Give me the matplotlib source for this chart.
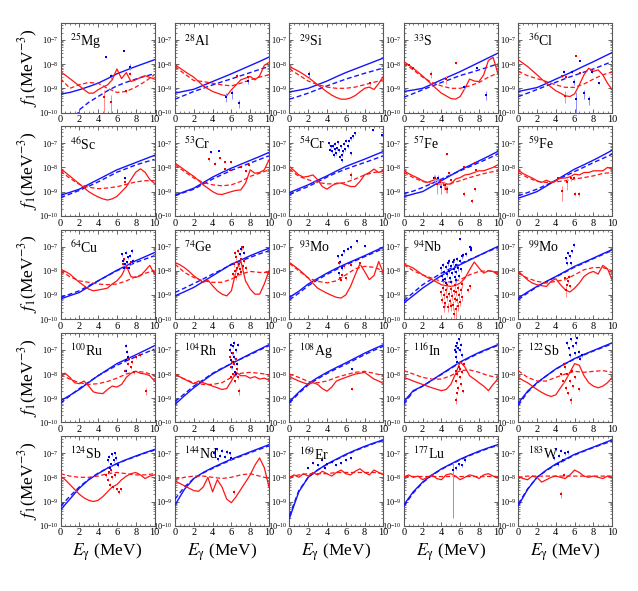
import numpy as np
import matplotlib
matplotlib.use("Agg")
import matplotlib.pyplot as plt
from matplotlib.ticker import MultipleLocator, LogLocator, NullFormatter

plt.rcParams['font.family'] = ['Liberation Serif', 'DejaVu Serif']
plt.rcParams['mathtext.fontset'] = 'stix'

# ---- data: curves are log10 f1 at E = 0,1,...,10 (red solid at 0,0.5,...,10) ----
NUCLIDES = [("25", "Mg"), ("28", "Al"), ("29", "Si"), ("33", "S"), ("36", "Cl"),
            ("46", "Sc"), ("53", "Cr"), ("54", "Cr"), ("57", "Fe"), ("59", "Fe"),
            ("64", "Cu"), ("74", "Ge"), ("93", "Mo"), ("94", "Nb"), ("99", "Mo"),
            ("100", "Ru"), ("104", "Rh"), ("108", "Ag"), ("116", "In"), ("122", "Sb"),
            ("124", "Sb"), ("144", "Nd"), ("169", "Er"), ("177", "Lu"), ("183", "W")]

E_COARSE = [0, 1, 2, 3, 4, 5, 6, 7, 8, 9, 10]
E_FINE = [0, 0.5, 1, 1.5, 2, 2.5, 3, 3.5, 4, 4.5, 5, 5.5, 6, 6.5, 7, 7.5, 8, 8.5, 9, 9.5, 10]

BLUE_SOLID = [
    [-9.24, -9.17, -9.06, -8.93, -8.79, -8.6, -8.4, -8.25, -8.1, -7.96, -7.82],
    [-9.2, -9.12, -9.04, -8.88, -8.72, -8.56, -8.4, -8.23, -8.06, -7.89, -7.71],
    [-9.15, -9.08, -9.0, -8.85, -8.7, -8.52, -8.35, -8.2, -8.05, -7.9, -7.75],
    [-9.13, -9.07, -9.0, -8.83, -8.65, -8.48, -8.31, -8.12, -7.93, -7.74, -7.55],
    [-9.13, -9.05, -8.97, -8.8, -8.62, -8.45, -8.27, -8.08, -7.9, -7.71, -7.52],
    [-9.15, -9.03, -8.9, -8.7, -8.5, -8.3, -8.1, -7.95, -7.8, -7.65, -7.5],
    [-9.15, -9.0, -8.86, -8.63, -8.4, -8.21, -8.03, -7.87, -7.71, -7.55, -7.38],
    [-9.04, -8.88, -8.72, -8.53, -8.35, -8.15, -7.96, -7.81, -7.66, -7.5, -7.34],
    [-9.21, -9.1, -9.0, -8.78, -8.55, -8.33, -8.11, -7.92, -7.73, -7.54, -7.34],
    [-9.27, -9.14, -9.0, -8.77, -8.53, -8.3, -8.07, -7.89, -7.7, -7.5, -7.29],
    [-9.17, -9.03, -8.9, -8.66, -8.42, -8.2, -7.98, -7.79, -7.59, -7.42, -7.25],
    [-9.04, -8.87, -8.69, -8.45, -8.21, -7.97, -7.73, -7.56, -7.38, -7.22, -7.07],
    [-9.1, -8.85, -8.55, -8.32, -8.1, -7.9, -7.72, -7.55, -7.38, -7.2, -7.02],
    [-9.34, -9.03, -8.72, -8.46, -8.2, -7.97, -7.75, -7.56, -7.37, -7.18, -7.0],
    [-9.13, -8.88, -8.65, -8.44, -8.24, -8.03, -7.82, -7.65, -7.48, -7.3, -7.13],
    [-9.11, -8.88, -8.64, -8.35, -8.07, -7.82, -7.57, -7.39, -7.21, -7.02, -6.83],
    [-9.26, -8.9, -8.57, -8.28, -8.0, -7.78, -7.57, -7.37, -7.17, -6.98, -6.79],
    [-9.14, -8.75, -8.4, -8.15, -7.93, -7.73, -7.54, -7.34, -7.14, -6.96, -6.79],
    [-9.14, -8.69, -8.5, -8.25, -8.0, -7.75, -7.5, -7.3, -7.11, -6.95, -6.79],
    [-9.21, -8.71, -8.36, -8.07, -7.79, -7.57, -7.36, -7.19, -7.03, -6.87, -6.71],
    [-9.35, -8.9, -8.45, -8.1, -7.85, -7.62, -7.43, -7.27, -7.12, -6.98, -6.85],
    [-9.14, -8.5, -8.05, -7.8, -7.6, -7.42, -7.25, -7.1, -6.95, -6.8, -6.65],
    [-9.7, -8.6, -8.0, -7.7, -7.45, -7.25, -7.05, -6.88, -6.72, -6.58, -6.45],
    [-9.14, -8.6, -8.2, -7.9, -7.65, -7.45, -7.25, -7.08, -6.92, -6.78, -6.65],
    [-9.18, -8.5, -8.0, -7.7, -7.45, -7.25, -7.05, -6.9, -6.75, -6.6, -6.45],
]

BLUE_DASH = [
    [-11.6, -10.8, -9.89, -9.58, -9.34, -9.1, -8.9, -8.75, -8.62, -8.5, -8.4],
    [-9.45, -9.29, -9.13, -9.0, -8.86, -8.73, -8.61, -8.48, -8.35, -8.22, -8.1],
    [-9.45, -9.33, -9.2, -9.05, -8.9, -8.76, -8.62, -8.5, -8.38, -8.27, -8.16],
    [-9.37, -9.22, -9.06, -8.91, -8.76, -8.62, -8.47, -8.36, -8.24, -8.12, -7.99],
    [-9.34, -9.2, -9.05, -8.9, -8.75, -8.6, -8.46, -8.33, -8.2, -8.05, -7.89],
    [-9.25, -9.1, -8.95, -8.78, -8.6, -8.4, -8.2, -8.05, -7.9, -7.78, -7.67],
    [-9.17, -9.03, -8.9, -8.69, -8.48, -8.3, -8.12, -7.97, -7.82, -7.67, -7.52],
    [-9.13, -8.95, -8.79, -8.6, -8.4, -8.22, -8.07, -7.93, -7.8, -7.66, -7.52],
    [-9.08, -8.98, -8.83, -8.66, -8.48, -8.31, -8.14, -7.97, -7.8, -7.63, -7.45],
    [-9.17, -9.04, -8.9, -8.72, -8.55, -8.36, -8.17, -7.99, -7.8, -7.63, -7.45],
    [-9.1, -8.97, -8.83, -8.62, -8.42, -8.21, -8.0, -7.83, -7.66, -7.52, -7.38],
    [-8.9, -8.72, -8.53, -8.34, -8.14, -7.95, -7.75, -7.6, -7.45, -7.3, -7.18],
    [-9.2, -8.93, -8.62, -8.38, -8.15, -7.95, -7.76, -7.59, -7.42, -7.25, -7.08],
    [-9.24, -8.91, -8.58, -8.34, -8.1, -7.9, -7.71, -7.54, -7.37, -7.2, -7.04],
    [-9.2, -8.92, -8.67, -8.46, -8.26, -8.06, -7.85, -7.68, -7.5, -7.33, -7.16],
    [-9.21, -8.9, -8.6, -8.33, -8.07, -7.85, -7.64, -7.46, -7.29, -7.13, -6.97],
    [-9.14, -8.82, -8.5, -8.24, -7.97, -7.76, -7.57, -7.38, -7.2, -7.01, -6.83],
    [-9.2, -8.8, -8.45, -8.2, -7.98, -7.78, -7.6, -7.4, -7.2, -7.02, -6.85],
    [-9.25, -8.72, -8.5, -8.26, -8.02, -7.77, -7.53, -7.33, -7.14, -6.97, -6.82],
    [-9.3, -8.75, -8.38, -8.08, -7.8, -7.58, -7.38, -7.21, -7.05, -6.9, -6.75],
    [-9.2, -8.78, -8.4, -8.08, -7.83, -7.62, -7.44, -7.28, -7.14, -7.0, -6.88],
    [-8.9, -8.4, -8.05, -7.82, -7.63, -7.45, -7.28, -7.13, -6.98, -6.84, -6.7],
    [-9.6, -8.55, -8.0, -7.7, -7.47, -7.27, -7.08, -6.9, -6.75, -6.6, -6.48],
    [-9.2, -8.65, -8.22, -7.92, -7.67, -7.47, -7.28, -7.1, -6.95, -6.8, -6.68],
    [-9.1, -8.48, -8.0, -7.72, -7.48, -7.28, -7.08, -6.92, -6.77, -6.63, -6.5],
]

RED_SOLID = [
    [-8.31, -8.45, -8.6, -8.75, -8.9, -9.05, -9.2, -9.2, -9.06, -8.95, -8.86, -8.65, -8.2, -8.6, -8.35, -8.72, -8.65, -8.55, -8.48, -8.55, -8.62],
    [-8.03, -8.16, -8.29, -8.42, -8.54, -8.72, -8.9, -9.02, -9.13, -9.2, -9.27, -9.31, -9.06, -8.86, -8.65, -8.58, -8.51, -8.65, -8.49, -8.05, -7.93],
    [-8.1, -8.2, -8.3, -8.42, -8.55, -8.7, -8.85, -9.0, -9.15, -9.28, -9.38, -9.45, -9.45, -9.4, -9.3, -9.15, -9.0, -8.95, -9.05, -8.8, -8.5],
    [-7.89, -8.03, -8.17, -8.33, -8.49, -8.67, -8.86, -9.03, -9.2, -9.31, -9.42, -9.45, -9.34, -9.0, -8.62, -8.7, -8.72, -8.44, -7.85, -7.72, -8.37],
    [-7.82, -7.96, -8.1, -8.27, -8.44, -8.62, -8.79, -8.95, -9.1, -9.2, -9.31, -9.34, -9.23, -8.86, -8.44, -8.17, -8.3, -8.24, -8.44, -8.79, -9.06],
    [-8.05, -8.2, -8.36, -8.52, -8.68, -8.84, -9.0, -9.12, -9.22, -9.3, -9.35, -9.3, -9.2, -9.0, -8.8, -8.5, -8.2, -8.06, -8.2, -8.5, -8.66],
    [-7.82, -7.96, -8.1, -8.24, -8.37, -8.54, -8.72, -8.86, -9.0, -9.1, -9.12, -9.06, -9.0, -8.95, -8.93, -8.65, -8.1, -8.24, -8.21, -8.1, -7.69],
    [-7.96, -8.13, -8.31, -8.4, -8.37, -8.31, -8.51, -8.79, -8.9, -8.76, -8.65, -8.65, -8.72, -8.79, -8.79, -8.58, -8.31, -8.21, -8.07, -8.21, -8.13],
    [-8.14, -8.25, -8.35, -8.44, -8.55, -8.62, -8.55, -8.48, -8.6, -8.69, -8.69, -8.48, -8.42, -8.31, -8.28, -8.21, -8.14, -8.14, -8.07, -8.0, -7.89],
    [-8.11, -8.25, -8.35, -8.44, -8.55, -8.62, -8.53, -8.62, -8.55, -8.44, -8.44, -8.39, -8.28, -8.31, -8.21, -8.21, -8.14, -8.14, -8.14, -8.0, -8.07],
    [-7.93, -8.03, -8.14, -8.31, -8.48, -8.62, -8.76, -8.83, -8.8, -8.76, -8.72, -8.55, -8.42, -8.2, -7.8, -8.25, -8.28, -8.21, -8.0, -7.78, -8.14],
    [-7.66, -7.75, -7.87, -8.03, -8.21, -8.35, -8.48, -8.39, -8.62, -8.83, -8.97, -9.04, -8.83, -8.0, -7.59, -8.42, -8.76, -8.97, -8.97, -8.55, -8.0],
    [-7.66, -7.8, -7.95, -8.12, -8.3, -8.52, -8.72, -8.83, -8.93, -9.02, -9.1, -9.13, -9.0, -8.65, -8.17, -7.72, -8.03, -8.37, -8.2, -7.62, -8.1],
    [-7.73, -7.8, -7.89, -8.03, -8.17, -8.28, -8.37, -8.47, -8.58, -8.62, -8.65, -8.61, -8.51, -8.31, -7.96, -7.64, -7.89, -8.1, -8.0, -8.03, -8.17],
    [-8.03, -8.2, -8.38, -8.51, -8.58, -8.62, -8.65, -8.44, -8.33, -8.58, -8.79, -8.88, -8.72, -8.51, -8.24, -8.1, -8.03, -8.14, -7.78, -7.92, -8.38],
    [-8.0, -7.97, -8.14, -8.36, -8.4, -8.29, -8.5, -8.74, -8.79, -8.81, -8.64, -8.5, -8.54, -8.43, -8.14, -7.97, -7.89, -7.97, -8.0, -8.07, -8.29],
    [-8.0, -8.11, -8.21, -8.31, -8.4, -8.29, -8.36, -8.43, -8.5, -8.57, -8.64, -8.6, -8.29, -7.93, -8.07, -8.07, -8.17, -8.11, -8.21, -8.17, -8.26],
    [-8.11, -8.2, -8.29, -8.36, -8.43, -8.36, -8.43, -8.6, -8.71, -8.54, -8.29, -8.21, -8.14, -8.07, -8.0, -7.97, -7.93, -8.07, -8.21, -8.29, -8.4],
    [-8.14, -8.21, -8.29, -8.36, -8.43, -8.5, -8.57, -8.63, -8.69, -8.64, -8.43, -8.0, -7.5, -7.71, -8.07, -8.21, -8.36, -8.5, -8.69, -8.43, -8.21],
    [-8.14, -8.26, -8.36, -8.5, -8.64, -8.76, -8.86, -8.93, -8.86, -8.57, -8.29, -7.93, -7.57, -7.64, -8.07, -8.36, -8.5, -8.57, -8.5, -8.36, -8.14],
    [-7.95, -8.1, -8.3, -8.5, -8.7, -8.85, -8.95, -9.0, -8.95, -8.8, -8.6, -8.4, -8.3, -8.1, -7.95, -7.85, -7.8, -7.9, -8.05, -7.95, -7.9],
    [-8.16, -8.25, -8.35, -8.45, -8.55, -8.58, -8.4, -8.0, -8.6, -8.1, -8.4, -8.9, -9.05, -8.8, -8.5, -8.2, -7.9, -7.5, -7.2, -7.6, -8.4],
    [-8.0, -7.9, -8.0, -7.85, -7.95, -7.8, -7.9, -7.75, -7.85, -7.95, -7.8, -7.7, -7.85, -7.9, -7.75, -7.65, -7.8, -7.9, -7.7, -7.8, -7.9],
    [-8.0, -7.9, -8.0, -7.95, -8.1, -8.0, -7.9, -8.05, -8.1, -7.9, -7.85, -7.95, -8.1, -8.0, -7.9, -7.95, -8.05, -7.9, -7.85, -7.95, -8.0],
    [-7.95, -8.05, -8.1, -7.95, -8.0, -8.2, -8.1, -8.0, -7.95, -8.0, -8.05, -7.9, -7.7, -7.8, -7.95, -8.0, -7.95, -8.0, -8.05, -7.95, -8.0],
]

RED_DASH = [
    [-8.6, -9.0, -8.85, -8.76, -8.79, -9.0, -9.17, -9.13, -8.95, -8.72, -8.44],
    [-8.1, -8.4, -8.68, -8.72, -8.79, -8.86, -8.9, -8.79, -8.65, -8.54, -8.44],
    [-8.2, -8.45, -8.7, -8.85, -8.95, -9.0, -9.0, -8.95, -8.85, -8.75, -8.65],
    [-7.96, -8.24, -8.54, -8.76, -8.9, -9.0, -9.0, -8.9, -8.76, -8.54, -8.37],
    [-8.3, -8.48, -8.6, -8.72, -8.86, -8.96, -8.96, -8.82, -8.62, -8.44, -8.33],
    [-8.15, -8.45, -8.7, -8.82, -8.88, -8.85, -8.8, -8.7, -8.6, -8.55, -8.55],
    [-7.89, -8.17, -8.44, -8.62, -8.72, -8.76, -8.72, -8.58, -8.37, -8.24, -8.1],
    [-8.07, -8.37, -8.51, -8.62, -8.68, -8.68, -8.62, -8.48, -8.31, -8.21, -8.17],
    [-8.21, -8.42, -8.58, -8.66, -8.69, -8.66, -8.55, -8.42, -8.31, -8.21, -8.14],
    [-8.21, -8.42, -8.58, -8.62, -8.6, -8.55, -8.48, -8.42, -8.35, -8.25, -8.21],
    [-8.0, -8.25, -8.42, -8.48, -8.55, -8.58, -8.55, -8.42, -8.25, -8.11, -7.98],
    [-7.73, -8.07, -8.28, -8.42, -8.48, -8.48, -8.35, -8.14, -8.03, -8.07, -8.07],
    [-7.7, -8.0, -8.3, -8.44, -8.5, -8.42, -8.17, -7.92, -7.82, -7.86, -8.0],
    [-7.75, -8.0, -8.17, -8.31, -8.44, -8.47, -8.37, -8.17, -8.03, -8.0, -8.1],
    [-8.1, -8.31, -8.44, -8.51, -8.44, -8.37, -8.17, -7.96, -7.87, -7.87, -8.0],
    [-8.03, -8.21, -8.36, -8.43, -8.4, -8.31, -8.17, -8.0, -7.89, -7.93, -8.07],
    [-8.03, -8.21, -8.36, -8.43, -8.43, -8.36, -8.14, -7.97, -7.93, -7.97, -8.03],
    [-8.0, -8.14, -8.31, -8.36, -8.29, -8.14, -8.03, -7.93, -7.89, -7.97, -8.07],
    [-7.86, -8.0, -8.14, -8.21, -8.21, -8.07, -7.86, -7.83, -7.93, -8.07, -8.14],
    [-7.86, -8.14, -8.29, -8.29, -8.14, -8.0, -7.89, -7.93, -7.89, -7.86, -7.93],
    [-7.85, -7.95, -8.0, -8.0, -7.95, -7.85, -7.8, -7.85, -7.9, -7.9, -7.85],
    [-8.1, -8.0, -7.95, -7.95, -8.0, -8.05, -8.0, -7.9, -7.85, -7.95, -8.05],
    [-8.0, -7.9, -7.85, -7.85, -7.85, -7.8, -7.8, -7.8, -7.8, -7.8, -7.85],
    [-7.95, -7.95, -7.95, -7.95, -7.95, -7.95, -7.95, -7.95, -7.95, -7.95, -7.95],
    [-8.0, -7.95, -7.95, -7.95, -7.95, -7.95, -7.95, -7.95, -7.95, -7.95, -7.95],
]

# experimental points: (E_gamma, log10 f1, relative error)
BLUE_PTS = [
    [(4.8, -7.71, 0.05), (6.8, -7.44, 0.05), (7.4, -8.1, 0.3), (5.4, -8.51, 0.3)],
    [(5.4, -9.34, 0.4), (6.1, -9.2, 0.4), (6.8, -9.61, 0.4), (7.8, -8.69, 0.25)],
    [(2.1, -8.4, 0.3)],
    [(6.4, -8.95, 0.2), (7.8, -8.17, 0.1), (8.7, -9.27, 0.4)],
    [(4.9, -8.31, 0.15), (5.7, -8.31, 0.15), (5.9, -8.72, 0.3), (6.1, -9.45, 0.9), (6.6, -7.86, 0.05),
     (7.0, -9.2, 0.4), (7.5, -9.45, 0.4), (7.9, -8.31, 0.1), (8.6, -8.79, 0.1)],
    [(6.9, -8.45, 0.1)],
    [(3.8, -7.38, 0.05), (4.7, -7.31, 0.05)],
    [(4.2, -7.0, 0.15), (4.4, -7.13, 0.15), (4.5, -7.34, 0.15), (4.6, -7.11, 0.15), (4.7, -7.48, 0.15),
     (4.8, -7.25, 0.15), (4.9, -7.02, 0.15), (5.0, -7.41, 0.15), (5.1, -7.2, 0.15), (5.2, -6.97, 0.15),
     (5.3, -7.3, 0.15), (5.4, -7.55, 0.15), (5.5, -7.13, 0.15), (5.6, -7.71, 0.15), (5.7, -7.34, 0.15),
     (5.8, -7.02, 0.15), (5.9, -7.25, 0.15), (6.0, -6.89, 0.15), (6.2, -7.11, 0.15), (6.3, -6.89, 0.15),
     (6.5, -6.79, 0.15), (6.8, -6.72, 0.15), (6.5, -7.41, 0.15), (7.0, -6.58, 0.15), (8.9, -6.47, 0.1),
     (9.8, -6.65, 0.1), (5.6, -7.48, 0.15), (4.3, -7.27, 0.15)],
    [(3.2, -8.42, 0.3), (3.6, -8.42, 0.3), (4.0, -8.8, 0.5), (4.4, -8.72, 0.3), (4.6, -8.9, 0.3),
     (3.8, -8.62, 0.3)],
    [],
    [(6.5, -7.31, 0.15), (6.6, -7.59, 0.15), (6.8, -7.87, 0.15), (7.0, -7.25, 0.15), (7.1, -7.66, 0.15),
     (7.2, -7.45, 0.15), (7.3, -7.87, 0.15), (7.4, -7.38, 0.15), (7.6, -7.18, 0.15), (7.7, -7.59, 0.15),
     (6.9, -7.73, 0.15)],
    [(7.0, -7.11, 0.15), (7.2, -7.04, 0.15), (7.3, -7.25, 0.15), (6.9, -7.31, 0.15)],
    [(5.2, -7.41, 0.15), (5.4, -7.62, 0.15), (5.6, -7.34, 0.15), (5.8, -7.2, 0.15), (6.2, -7.09, 0.15),
     (6.5, -7.04, 0.15), (7.2, -6.79, 0.1), (8.0, -6.96, 0.1), (5.3, -8.1, 0.15), (5.6, -7.89, 0.15)],
    [(4.0, -7.9, 0.2), (4.1, -8.2, 0.2), (4.2, -7.75, 0.2), (4.3, -8.05, 0.2), (4.4, -8.35, 0.2),
     (4.5, -7.85, 0.2), (4.6, -8.15, 0.2), (4.7, -7.7, 0.2), (4.8, -8.0, 0.2), (4.9, -8.3, 0.2),
     (5.0, -7.8, 0.2), (5.1, -8.1, 0.2), (5.2, -7.65, 0.2), (5.3, -7.95, 0.2), (5.4, -8.25, 0.2),
     (5.5, -7.75, 0.2), (5.6, -8.05, 0.2), (5.7, -7.5, 0.2), (5.8, -7.9, 0.2), (5.9, -8.2, 0.2),
     (6.0, -7.6, 0.2), (6.1, -7.95, 0.2), (6.2, -7.4, 0.2), (6.0, -6.68, 0.1), (6.3, -7.35, 0.2),
     (6.6, -7.3, 0.2), (7.0, -7.0, 0.15), (7.1, -7.13, 0.15), (7.2, -7.05, 0.15), (4.5, -8.5, 0.2),
     (5.0, -8.45, 0.2), (5.6, -8.4, 0.2), (4.2, -8.4, 0.2), (5.3, -7.55, 0.2), (4.8, -7.6, 0.2)],
    [(5.1, -7.48, 0.15), (5.3, -7.27, 0.15), (5.5, -7.41, 0.15), (5.7, -7.2, 0.15), (5.9, -6.93, 0.15),
     (5.2, -7.69, 0.15), (5.6, -7.69, 0.15)],
    [(7.0, -6.83, 0.15), (7.1, -7.07, 0.15), (7.2, -7.29, 0.15), (7.0, -7.43, 0.15), (7.0, -7.86, 0.15)],
    [(5.9, -7.0, 0.15), (6.0, -6.79, 0.15), (6.0, -7.43, 0.15), (6.1, -7.14, 0.15), (6.1, -7.71, 0.15),
     (6.2, -6.86, 0.15), (6.2, -7.5, 0.15), (6.3, -6.71, 0.15), (6.3, -7.29, 0.15), (6.4, -7.93, 0.15),
     (6.5, -7.0, 0.15), (6.6, -7.57, 0.15), (6.7, -6.79, 0.15), (6.5, -8.0, 0.15)],
    [(6.7, -7.79, 0.1)],
    [(5.5, -6.86, 0.15), (5.6, -7.07, 0.15), (5.7, -6.71, 0.15), (5.8, -6.93, 0.15), (5.9, -6.57, 0.15),
     (6.0, -7.0, 0.15), (6.1, -6.79, 0.15), (5.5, -7.29, 0.15), (5.7, -7.5, 0.15), (6.2, -7.21, 0.15),
     (5.4, -7.0, 0.15)],
    [(5.2, -6.71, 0.15), (5.4, -6.93, 0.15), (5.6, -6.57, 0.15), (5.8, -6.86, 0.15), (6.0, -7.14, 0.15),
     (6.2, -6.71, 0.15), (6.5, -7.07, 0.15), (6.8, -7.21, 0.15), (5.5, -7.21, 0.15), (6.6, -7.36, 0.15),
     (6.3, -6.5, 0.15)],
    [(5.0, -7.3, 0.15), (5.2, -7.15, 0.15), (5.4, -7.45, 0.15), (5.5, -7.05, 0.15), (5.7, -7.3, 0.15),
     (5.9, -7.2, 0.15), (6.1, -7.5, 0.15), (5.3, -7.6, 0.15), (5.8, -7.0, 0.15)],
    [(4.2, -7.0, 0.15), (4.5, -6.85, 0.15), (4.8, -7.1, 0.15), (5.0, -6.9, 0.15), (5.3, -7.15, 0.15),
     (5.5, -6.95, 0.15), (5.8, -7.0, 0.15), (6.0, -7.2, 0.15), (4.6, -7.25, 0.15)],
    [(2.5, -7.4, 0.1), (3.0, -7.5, 0.1), (3.5, -7.3, 0.1), (4.0, -7.45, 0.1), (4.5, -7.35, 0.1),
     (5.0, -7.5, 0.1), (5.5, -7.4, 0.1), (6.0, -7.3, 0.1), (6.5, -7.2, 0.1), (3.8, -7.6, 0.1),
     (2.0, -7.6, 0.1)],
    [(5.2, -7.7, 0.99), (5.6, -7.6, 0.2), (5.9, -7.45, 0.15), (6.2, -7.5, 0.15), (6.5, -7.3, 0.15)],
    [(3.8, -7.2, 0.15), (4.0, -6.85, 0.15), (4.3, -7.1, 0.15), (4.5, -6.9, 0.15), (4.8, -7.3, 0.15),
     (5.0, -7.0, 0.15), (5.3, -6.95, 0.15), (4.2, -7.45, 0.15)],
]

RED_PTS = [
    [(4.6, -9.34, 0.8), (5.4, -9.55, 0.8), (7.0, -9.13, 0.15), (7.4, -8.4, 0.15)],
    [(6.6, -8.49, 0.2), (7.8, -8.55, 0.2)],
    [(8.6, -8.8, 0.2)],
    [(2.9, -8.4, 0.3), (4.5, -8.62, 0.4), (5.5, -7.96, 0.05), (0.6, -8.05, 0.05), (1.0, -8.15, 0.05)],
    [(4.7, -8.51, 0.1), (5.1, -8.54, 0.1), (5.0, -9.3, 0.5), (6.2, -7.66, 0.05), (6.6, -8.37, 0.1)],
    [(6.9, -8.6, 0.1)],
    [(3.6, -7.66, 0.15), (4.3, -7.85, 0.15), (4.8, -7.62, 0.05), (5.3, -7.78, 0.05), (5.3, -8.07, 0.1),
     (5.8, -8.1, 0.05), (6.0, -7.78, 0.05), (7.0, -7.99, 0.05), (7.5, -8.15, 0.05), (7.9, -7.9, 0.05)],
    [(6.6, -8.31, 0.3)],
    [(3.3, -8.44, 0.3), (3.5, -8.69, 0.6), (3.8, -8.62, 0.3), (4.0, -8.53, 0.2), (4.3, -8.72, 0.4),
     (4.5, -8.9, 0.3), (4.6, -7.45, 0.05), (4.8, -8.25, 0.1), (5.0, -8.53, 0.1), (6.4, -8.0, 0.05),
     (6.4, -9.08, 0.2), (7.3, -9.38, 0.2), (7.6, -7.8, 0.05), (7.7, -8.11, 0.05), (7.6, -8.9, 0.15)],
    [(4.2, -8.44, 0.1), (4.7, -8.97, 0.6), (5.2, -8.62, 0.5), (5.6, -8.42, 0.3), (5.9, -8.44, 0.2),
     (6.0, -9.1, 0.2), (6.5, -9.1, 0.2)],
    [(6.6, -7.73, 0.15), (6.8, -7.52, 0.15), (7.1, -7.87, 0.15), (7.5, -7.66, 0.15)],
    [(6.3, -7.73, 0.2), (6.4, -8.0, 0.2), (6.5, -7.45, 0.2), (6.5, -8.28, 0.2), (6.6, -7.66, 0.2),
     (6.6, -7.87, 0.2), (6.7, -7.18, 0.2), (6.7, -8.14, 0.2), (6.8, -7.73, 0.2), (6.9, -7.93, 0.2),
     (7.0, -7.52, 0.2), (7.0, -8.07, 0.2), (7.1, -7.04, 0.2), (7.2, -7.8, 0.2), (7.3, -7.59, 0.2),
     (7.5, -7.87, 0.2), (6.4, -7.25, 0.2), (6.2, -8.14, 0.2)],
    [(5.3, -7.69, 0.15), (5.4, -8.31, 0.15), (5.6, -8.17, 0.15), (5.8, -7.82, 0.15), (6.0, -8.31, 0.15),
     (6.5, -7.75, 0.15), (7.5, -7.69, 0.15), (5.5, -8.37, 0.15)],
    [(4.0, -8.9, 0.3), (4.1, -9.2, 0.3), (4.2, -8.7, 0.3), (4.3, -9.0, 0.3), (4.4, -9.35, 0.3),
     (4.5, -8.8, 0.3), (4.6, -9.1, 0.3), (4.7, -9.5, 0.4), (4.8, -8.95, 0.3), (4.9, -9.25, 0.3),
     (5.0, -8.75, 0.3), (5.1, -9.05, 0.3), (5.2, -9.4, 0.4), (5.3, -8.85, 0.3), (5.4, -9.15, 0.3),
     (5.5, -9.6, 0.5), (5.6, -8.9, 0.3), (5.7, -9.2, 0.3), (5.8, -8.7, 0.3), (5.9, -9.0, 0.3),
     (6.0, -9.3, 0.3), (6.1, -8.8, 0.3), (6.2, -9.1, 0.3), (6.8, -8.79, 0.2), (7.0, -8.65, 0.2),
     (4.6, -8.6, 0.3), (5.0, -9.45, 0.4), (5.4, -8.6, 0.3), (5.3, -9.8, 0.8), (4.3, -9.5, 0.4),
     (5.8, -9.45, 0.4), (6.2, -8.55, 0.3)],
    [(5.0, -8.31, 0.15), (5.2, -8.58, 0.15), (5.1, -8.79, 0.5), (5.4, -8.24, 0.15), (5.5, -8.65, 0.15),
     (5.3, -8.44, 0.15)],
    [(6.9, -7.86, 0.15), (7.2, -7.57, 0.15), (7.5, -7.71, 0.15), (7.6, -7.5, 0.15), (8.0, -7.29, 0.15),
     (8.5, -7.21, 0.15), (7.8, -7.93, 0.15), (9.1, -8.71, 0.3), (7.3, -7.36, 0.15)],
    [(5.9, -7.29, 0.15), (6.0, -7.71, 0.15), (6.1, -7.5, 0.15), (6.2, -8.0, 0.15), (6.2, -7.14, 0.15),
     (6.3, -7.57, 0.15), (6.4, -8.29, 0.15), (6.5, -7.36, 0.15), (6.6, -7.79, 0.15), (6.7, -8.14, 0.15),
     (6.8, -8.71, 0.3), (6.0, -8.14, 0.15)],
    [(6.7, -8.6, 0.1)],
    [(5.5, -9.07, 0.3), (5.6, -8.29, 0.15), (5.7, -8.0, 0.15), (5.8, -8.57, 0.15), (5.9, -7.71, 0.15),
     (6.0, -8.14, 0.15), (6.1, -8.43, 0.15), (6.2, -7.93, 0.15), (6.3, -8.71, 0.15), (6.4, -7.57, 0.15),
     (5.5, -7.86, 0.15), (5.7, -8.79, 0.15), (6.0, -7.79, 0.15)],
    [(4.6, -8.0, 0.15), (4.8, -8.29, 0.15), (5.0, -7.71, 0.15), (5.1, -8.57, 0.15), (5.2, -8.0, 0.15),
     (5.3, -8.79, 0.15), (5.5, -8.29, 0.15), (5.6, -9.07, 0.3), (5.7, -7.86, 0.15), (5.8, -8.5, 0.15),
     (6.0, -8.14, 0.15), (6.5, -8.64, 0.15), (4.9, -7.57, 0.15)],
    [(4.8, -7.9, 0.15), (5.0, -8.1, 0.15), (5.2, -7.8, 0.15), (5.3, -8.3, 0.15), (5.5, -8.0, 0.15),
     (5.6, -8.4, 0.15), (5.8, -7.9, 0.15), (6.0, -8.5, 0.15), (6.2, -8.6, 0.15), (6.4, -8.5, 0.15),
     (5.4, -7.7, 0.15)],
    [(6.3, -8.6, 0.2)],
    [],
    [],
    [(4.6, -8.7, 0.3), (4.9, -7.9, 0.15)],
]

FIG_W, FIG_H = 638, 591
COL_LEFT = [60.5, 175.0, 289.4, 403.8, 518.2]
ROW_TOP = [23.0, 126.3, 229.6, 332.9, 436.2]
AX_W, AX_H = 94.0, 89.5


def draw_points(ax, pts, color, ecolor):
    if not pts:
        return
    arr = np.array(pts, dtype=float)
    e = arr[:, 0]
    f = 10.0 ** arr[:, 1]
    rel = arr[:, 2]
    lo = np.minimum(f * rel, f * 0.999)
    hi = f * rel
    ax.errorbar(e, f, yerr=[lo, hi], fmt='s', ms=1.7, mew=0, color=color,
                ecolor=ecolor, elinewidth=0.7, capsize=0, zorder=4)


def main():
    fig = plt.figure(figsize=(FIG_W / 100, FIG_H / 100), dpi=100)

    for i, (mass, sym) in enumerate(NUCLIDES):
        r, c = divmod(i, 5)
        left = COL_LEFT[c] / FIG_W
        bottom = 1 - (ROW_TOP[r] + AX_H) / FIG_H
        ax = fig.add_axes([left, bottom, AX_W / FIG_W, AX_H / FIG_H])
        ax.set_yscale('log')

        ax.plot(E_COARSE, 10.0 ** np.array(BLUE_SOLID[i]), '-', color='#1414ff', lw=1.0, zorder=3)
        ax.plot(E_COARSE, 10.0 ** np.array(BLUE_DASH[i]), '--', color='#1414ff', lw=1.0,
                dashes=(3.5, 2), zorder=3)
        ax.plot(E_FINE, 10.0 ** np.array(RED_SOLID[i]), '-', color='#ff1414', lw=0.9, zorder=3)
        ax.plot(E_COARSE, 10.0 ** np.array(RED_DASH[i]), '--', color='#ff1414', lw=0.9,
                dashes=(3.5, 2), zorder=3)

        draw_points(ax, BLUE_PTS[i], '#0000e0', '#8c8cff')
        draw_points(ax, RED_PTS[i], '#ee0000', '#ff8c8c')

        ax.set_xlim(0, 10)
        ax.set_ylim(1e-10, 5e-7)
        ax.xaxis.set_major_locator(MultipleLocator(2))
        ax.xaxis.set_minor_locator(MultipleLocator(0.5))
        ax.yaxis.set_major_locator(LogLocator(base=10, numticks=10))
        ax.yaxis.set_minor_locator(LogLocator(base=10, subs=np.arange(2, 10), numticks=10))
        ax.yaxis.set_minor_formatter(NullFormatter())
        ax.tick_params(which='both', direction='in', top=True, right=True, color='0.3')
        ax.tick_params(which='major', length=3, width=0.6)
        ax.tick_params(which='minor', length=1.5, width=0.5)
        ax.tick_params(axis='x', labelsize=7.5, pad=2)
        ax.tick_params(axis='y', labelsize=6, pad=1.5)
        for sp in ax.spines.values():
            sp.set_color('0.35')
            sp.set_linewidth(0.8)

        ax.text(0.10, 0.80, r'$^{%s}$%s' % (mass, sym), transform=ax.transAxes,
                fontsize=10, ha='left', va='center')

    # row labels and column labels
    for r in range(5):
        yc = 1 - (ROW_TOP[r] + AX_H / 2) / FIG_H
        fig.text(28 / FIG_W, yc, r'$f_1$(MeV$^{-3}$)', rotation=90, fontsize=12.5,
                 ha='center', va='center')
    for c in range(5):
        xc = (COL_LEFT[c] + AX_W / 2) / FIG_W
        fig.text(xc, 1 - 552 / FIG_H, r'$E_{\mathrm{\gamma}}$ (MeV)', fontsize=12.5,
                 ha='center', va='center')

    fig.savefig('out.png', dpi=100)


if __name__ == "__main__":
    main()
